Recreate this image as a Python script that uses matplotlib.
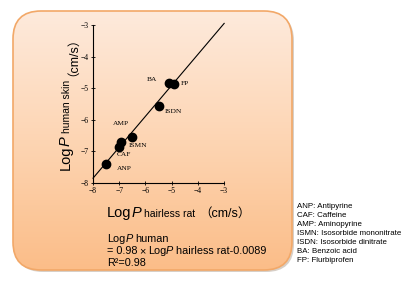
import numpy as np
import matplotlib
matplotlib.use('Agg')
import matplotlib.pyplot as plt
from matplotlib.patches import FancyBboxPatch
from matplotlib.colors import LinearSegmentedColormap

# data
drug_codes = ['ANP', 'CAF', 'AMP', 'ISMN', 'ISDN', 'BA', 'FP']
rat_logp = [-7.5, -7.0, -6.95, -6.5, -5.5, -5.1, -4.9]
human_logp = [-7.4, -6.85, -6.7, -6.55, -5.55, -4.85, -4.88]
fit_slope = 0.98
fit_intercept = -0.0089
axis_ticks = [-8, -7, -6, -5, -4, -3]
legend_lines = ['ANP: Antipyrine', 'CAF: Caffeine', 'AMP: Aminopyrine',
                'ISMN: Isosorbide mononitrate', 'ISDN: Isosorbide dinitrate',
                'BA: Benzoic acid', 'FP: Flurbiprofen']

SANS = ['Liberation Sans', 'Noto Sans CJK SC', 'DejaVu Sans']
SERIF = ['Liberation Serif', 'DejaVu Serif']

W, H = 401, 281
fig = plt.figure(figsize=(W / 100, H / 100), dpi=100)
fig.patch.set_facecolor('white')

# background rounded box with gradient
bg = fig.add_axes([0, 0, 1, 1])
bg.set_xlim(0, W)
bg.set_ylim(H, 0)
bg.axis('off')
x0, y0, x1, y1 = 13, 11, 292, 270
shadow = FancyBboxPatch((x0 + 2, y0 + 2), x1 - x0, y1 - y0,
                        boxstyle='round,pad=0,rounding_size=28',
                        fc='#b0a090', ec='none', alpha=0.5)
bg.add_patch(shadow)
box = FancyBboxPatch((x0, y0), x1 - x0, y1 - y0,
                     boxstyle='round,pad=0,rounding_size=28',
                     fc='none', ec='#f2a868', lw=1.2, zorder=3)
bg.add_patch(box)
cmap = LinearSegmentedColormap.from_list('peach', ['#feeadc', '#fdd5b3', '#fbbd88'])
grad = np.linspace(0, 1, 256).reshape(-1, 1)
im = bg.imshow(grad, cmap=cmap, extent=(x0, x1, y1, y0), aspect='auto', zorder=2)
im.set_clip_path(box)

# scatter plot
ax = fig.add_axes([0.232, 0.349, 0.327, 0.562])
ax.patch.set_alpha(0)
ax.set_xlim(-8, -3)
ax.set_ylim(-8, -3)
ax.spines['top'].set_visible(False)
ax.spines['right'].set_visible(False)
for s in ['left', 'bottom']:
    ax.spines[s].set_linewidth(0.8)
ax.set_xticks(axis_ticks)
ax.set_yticks(axis_ticks)
ax.tick_params(direction='inout', length=2.5, width=0.6, labelsize=5.5, pad=2)
for lab in ax.get_xticklabels() + ax.get_yticklabels():
    lab.set_family(SERIF)

xs = np.array([-8, -3])
ax.plot(xs, fit_slope * xs + fit_intercept, color='black', lw=0.8, clip_on=False)
ax.scatter(rat_logp, human_logp, s=36, color='black', zorder=3, clip_on=False)

label_offsets = {'ANP': (0.68, -0.13), 'CAF': (0.18, -0.26), 'AMP': (0.02, 0.57),
                 'ISMN': (0.2, -0.28), 'ISDN': (0.55, -0.2), 'BA': (-0.65, 0.14),
                 'FP': (0.42, 0.04)}
for code, x, y in zip(drug_codes, rat_logp, human_logp):
    dx, dy = label_offsets[code]
    ax.text(x + dx, y + dy, code, fontsize=5.3, family=SERIF,
            ha='center', va='center')

# axis labels made of pieces with different sizes
fig.canvas.draw()
renderer = fig.canvas.get_renderer()


def chain(pieces, x, y):
    # pieces: (text, size, style, gap_after_px); y is the baseline (top-left origin)
    pos = x
    for txt, size, style, gap in pieces:
        t = fig.text(pos / W, 1 - y / H, txt, fontsize=size, style=style,
                     family=SANS, ha='left', va='baseline')
        pos += t.get_window_extent(renderer).width + gap


def chain_vertical(pieces, x, y_bottom):
    pos = y_bottom
    for txt, size, style, gap in pieces:
        t = fig.text(x / W, pos / H, txt, fontsize=size, style=style,
                     family=SANS, ha='left', va='baseline', rotation=90,
                     rotation_mode='anchor')
        pos += t.get_window_extent(renderer).height + gap


chain([('Log', 10.5, 'normal', 0), ('P', 10.5, 'italic', 3),
       ('hairless rat', 7.5, 'normal', 4), ('（cm/s）', 9, 'normal', 0)],
      107, 217)

chain_vertical([('Log', 10.5, 'normal', 0), ('P', 10.5, 'italic', 3),
                ('human skin', 7.5, 'normal', 4), ('（cm/s）', 9, 'normal', 0)],
               70, H - 170)

fs = 7.8
eq_lines = [[('Log', fs, 'normal', 0), ('P', fs, 'italic', 3), ('human', fs, 'normal', 0)],
            [('= 0.98', fs, 'normal', 2), ('×', fs, 'normal', 2), ('Log', fs, 'normal', 0),
             ('P', fs, 'italic', 3), ('hairless rat-0.0089', fs, 'normal', 0)],
            [('R²=0.98', fs, 'normal', 0)]]
for i, line in enumerate(eq_lines):
    chain(line, 107, 242 + i * 12)

for i, line in enumerate(legend_lines):
    fig.text(297 / W, 1 - (206 + i * 9.1) / H, line, fontsize=5.7,
             family=SANS, ha='left', va='center')

fig.savefig('out.png', dpi=100)
